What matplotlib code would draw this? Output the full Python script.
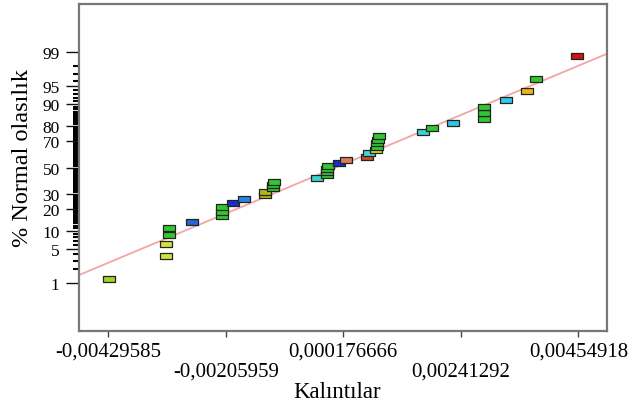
import math
import numpy as np
import matplotlib
matplotlib.use("Agg")
import matplotlib.pyplot as plt
from matplotlib.path import Path
from matplotlib.ticker import FixedLocator, NullFormatter

# Residuals (sorted)
residuals = [
    -0.004282, -0.003198, -0.003198, -0.003135, -0.003135, -0.002709, -0.002138, -0.002138,
    -0.002126, -0.001917, -0.001713, -0.001314, -0.001304, -0.001162, -0.001152, -0.001137,
    -0.000330, -0.000139, -0.000134, -0.000128, -0.000120, 0.000095, 0.000222, 0.000633,
    0.000671, 0.000793, 0.000809, 0.000818, 0.000837, 0.000850, 0.001684, 0.001859,
    0.002270, 0.002854, 0.002854, 0.002854, 0.003273, 0.003667, 0.003844, 0.004618,
]

G = "#33c633"
point_colors = [
    "#a6d02e", "#d6e03c", "#d6e03c", G, G, "#2468d4", G, G,
    G, "#1a2ccc", "#2c82e0", "#b4b414", "#b4b414", G, G, G,
    "#3cd2d2", G, G, G, G, "#1a2ccc", "#e07a5a", "#c8502a",
    "#3cd8d8", "#e0d028", G, G, G, G, "#3cd2d2", G,
    "#34c4e6", G, G, G, "#34c8ea", "#e8b810", G, "#d01414",
]

# reference line (normal fit)
line_mean = 0.00003
line_sd = 0.002255

x_ticks = [-0.00429585, -0.00205959, 0.000176666, 0.00241292, 0.00464918]
x_tick_labels = ["-0,00429585", "-0,00205959", "0,000176666", "0,00241292", "0,00454918"]
y_ticks = [1, 5, 10, 20, 30, 50, 70, 80, 90, 95, 99]


def norm_cdf(z):
    z = np.asarray(z, dtype=float)
    return 0.5 * (1.0 + np.vectorize(math.erf)(z / math.sqrt(2.0)))


def norm_ppf(p):
    # Acklam's rational approximation
    p = np.clip(np.asarray(p, dtype=float), 1e-12, 1 - 1e-12)
    a = [-3.969683028665376e+01, 2.209460984245205e+02, -2.759285104469687e+02,
         1.383577518672690e+02, -3.066479806614716e+01, 2.506628277459239e+00]
    b = [-5.447609879822406e+01, 1.615858368580409e+02, -1.556989798598866e+02,
         6.680131188771972e+01, -1.328068155288572e+01]
    c = [-7.784894002430293e-03, -3.223964580411365e-01, -2.400758277161838e+00,
         -2.549732539343734e+00, 4.374664141464968e+00, 2.938163982698783e+00]
    d = [7.784695709041462e-03, 3.224671290700398e-01, 2.445134137142996e+00,
         3.754408661907416e+00]
    plow = 0.02425
    out = np.zeros_like(p)
    lo = p < plow
    hi = p > 1 - plow
    mid = ~(lo | hi)
    q = np.sqrt(-2 * np.log(p[lo]))
    out[lo] = (((((c[0]*q+c[1])*q+c[2])*q+c[3])*q+c[4])*q+c[5]) / ((((d[0]*q+d[1])*q+d[2])*q+d[3])*q+1)
    q = np.sqrt(-2 * np.log(1 - p[hi]))
    out[hi] = -(((((c[0]*q+c[1])*q+c[2])*q+c[3])*q+c[4])*q+c[5]) / ((((d[0]*q+d[1])*q+d[2])*q+d[3])*q+1)
    q = p[mid] - 0.5
    r = q * q
    out[mid] = (((((a[0]*r+a[1])*r+a[2])*r+a[3])*r+a[4])*r+a[5])*q / (((((b[0]*r+b[1])*r+b[2])*r+b[3])*r+b[4])*r+1)
    return out


def fwd(p):
    return norm_ppf(np.asarray(p, dtype=float) / 100.0)


def inv(z):
    return norm_cdf(z) * 100.0


n = len(residuals)
probs = [(i + 0.5) / n * 100 for i in range(n)]

plt.rcParams["font.family"] = ["Liberation Serif", "DejaVu Serif"]

fig = plt.figure(figsize=(6.28, 4.10), dpi=100)
ax = fig.add_axes([79 / 628, 1 - 332 / 410, 528 / 628, 327 / 410])
ax.set_yscale("function", functions=(fwd, inv))

xlim = (-0.004853, 0.005195)
ax.set_xlim(*xlim)
ax.set_ylim(0.0497, 99.9503)

# fitted line
lx = np.linspace(xlim[0], xlim[1], 60)
ly = norm_cdf((lx - line_mean) / line_sd) * 100
ax.plot(lx, ly, color="#f4a4a4", lw=1.3, zorder=1)

# rectangular markers
rect = Path([(-1, -0.56), (1, -0.56), (1, 0.56), (-1, 0.56), (-1, -0.56)],
            [Path.MOVETO, Path.LINETO, Path.LINETO, Path.LINETO, Path.CLOSEPOLY])
for xv, pv, col in zip(residuals, probs, point_colors):
    ax.plot(xv, pv, marker=rect, ms=8.2, mfc=col, mec="#1e261e", mew=0.9,
            ls="none", zorder=3)

# axes styling
for s in ax.spines.values():
    s.set_color("#777777")
    s.set_linewidth(1.6)

ax.yaxis.set_major_locator(FixedLocator(y_ticks))
ax.set_yticklabels([str(v) for v in y_ticks])
minor = [v for v in range(1, 100) if v not in y_ticks]
ax.yaxis.set_minor_locator(FixedLocator(minor))
ax.yaxis.set_minor_formatter(NullFormatter())
ax.tick_params(axis="y", which="major", direction="out", length=9.4, width=1.0,
               color="#111111", labelsize=12.5, pad=4.5)
ax.tick_params(axis="y", which="minor", direction="out", length=4.3, width=1.5,
               color="#000000")

ax.xaxis.set_major_locator(FixedLocator(x_ticks))
ax.set_xticklabels(x_tick_labels)
ax.tick_params(axis="x", which="major", direction="out", length=4.3, width=1.0,
               color="#444444", labelsize=15, pad=3.5)
for i, t in enumerate(ax.xaxis.get_major_ticks()):
    if i % 2 == 1:
        t.set_pad(18)

ax.set_xlabel("Kalıntılar", fontsize=16.5)
ax.xaxis.set_label_coords(0.4886, -0.153)
ax.set_ylabel("% Normal olasılık", fontsize=17.5)
ax.yaxis.set_label_coords(-0.088, 0.532)

fig.savefig("out.png", dpi=100)
